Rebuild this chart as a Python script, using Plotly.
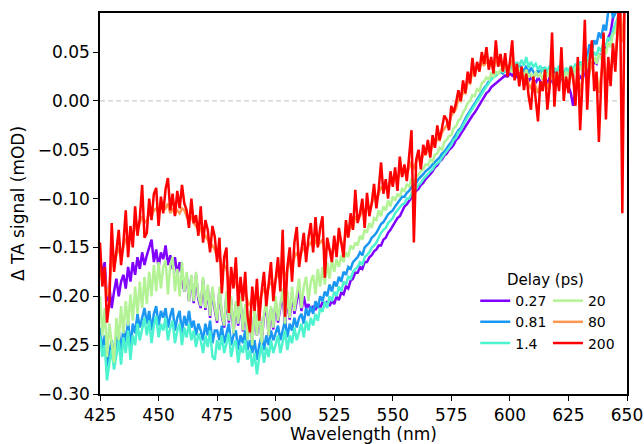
import plotly.graph_objects as go

wavelength = list(range(425, 651))

delay_labels = ["0.27", "0.81", "1.4", "20", "80", "200"]
colors = ["#8000ff", "#1a96f3", "#4df3ce", "#b3f396", "#ff964f", "#ff0000"]

sig_027 = [
    -0.160, -0.178, -0.165, -0.205, -0.190, -0.212, -0.195, -0.182, -0.200, -0.185,
    -0.178, -0.192, -0.170, -0.185, -0.165, -0.178, -0.160, -0.172, -0.155, -0.168,
    -0.158, -0.150, -0.142, -0.165, -0.152, -0.170, -0.155, -0.162, -0.148, -0.168,
    -0.158, -0.172, -0.160, -0.178, -0.165, -0.182, -0.195, -0.178, -0.205, -0.180,
    -0.207, -0.178, -0.203, -0.212, -0.183, -0.214, -0.191, -0.222, -0.193, -0.214,
    -0.227, -0.193, -0.220, -0.232, -0.198, -0.227, -0.203, -0.238, -0.208, -0.230,
    -0.205, -0.236, -0.212, -0.244, -0.218, -0.248, -0.215, -0.240, -0.213, -0.246,
    -0.221, -0.210, -0.240, -0.213, -0.234, -0.205, -0.227, -0.211, -0.198, -0.230,
    -0.200, -0.224, -0.196, -0.218, -0.205, -0.192, -0.215, -0.200, -0.212, -0.208,
    -0.215, -0.210, -0.214, -0.208, -0.212, -0.206, -0.210, -0.205, -0.210, -0.204,
    -0.208, -0.200, -0.204, -0.196, -0.198, -0.190, -0.192, -0.184, -0.182, -0.176,
    -0.176, -0.170, -0.172, -0.165, -0.165, -0.160, -0.158, -0.154, -0.152, -0.148,
    -0.148, -0.142, -0.140, -0.135, -0.132, -0.128, -0.125, -0.120, -0.118, -0.112,
    -0.108, -0.106, -0.102, -0.098, -0.095, -0.092, -0.090, -0.086, -0.084, -0.080,
    -0.078, -0.075, -0.072, -0.068, -0.066, -0.062, -0.060, -0.056, -0.054, -0.050,
    -0.048, -0.045, -0.040, -0.038, -0.034, -0.030, -0.026, -0.022, -0.018, -0.015,
    -0.012, -0.008, -0.004, 0.000, 0.004, 0.008, 0.010, 0.014, 0.016, 0.018,
    0.020, 0.022, 0.024, 0.026, 0.025, 0.028, 0.026, 0.030, 0.025, 0.028,
    0.025, 0.022, 0.026, 0.020, 0.024, 0.022, 0.018, 0.024, 0.020, 0.016,
    0.022, 0.018, 0.024, 0.020, 0.016, 0.022, 0.018, 0.024, 0.020, 0.016,
    0.015, 0.008, -0.005, 0.012, 0.020, 0.025, 0.022, 0.030, 0.028, 0.035,
    0.035, 0.040, 0.038, 0.048, 0.045, 0.055, 0.052, 0.065, 0.070, 0.085,
    0.090, 0.095, 0.100, 0.100, 0.105, 0.110,
]

sig_081 = [
    -0.232, -0.255, -0.240, -0.272, -0.258, -0.245, -0.262, -0.248, -0.235, -0.258,
    -0.232, -0.248, -0.225, -0.252, -0.228, -0.238, -0.218, -0.232, -0.222, -0.212,
    -0.228, -0.215, -0.235, -0.218, -0.210, -0.230, -0.215, -0.222, -0.212, -0.232,
    -0.220, -0.212, -0.235, -0.222, -0.215, -0.238, -0.220, -0.230, -0.215, -0.232,
    -0.225, -0.240, -0.228, -0.235, -0.245, -0.228, -0.240, -0.225, -0.248, -0.235,
    -0.235, -0.245, -0.230, -0.248, -0.238, -0.228, -0.250, -0.240, -0.235, -0.255,
    -0.240, -0.248, -0.235, -0.255, -0.245, -0.258, -0.245, -0.265, -0.250, -0.240,
    -0.255, -0.240, -0.250, -0.235, -0.245, -0.238, -0.230, -0.245, -0.235, -0.225,
    -0.242, -0.228, -0.235, -0.222, -0.232, -0.222, -0.218, -0.228, -0.212, -0.220,
    -0.210, -0.218, -0.205, -0.212, -0.200, -0.205, -0.195, -0.200, -0.188, -0.195,
    -0.185, -0.190, -0.180, -0.185, -0.175, -0.178, -0.170, -0.172, -0.165, -0.162,
    -0.160, -0.155, -0.158, -0.150, -0.148, -0.145, -0.140, -0.138, -0.135, -0.130,
    -0.126, -0.124, -0.120, -0.116, -0.114, -0.112, -0.108, -0.105, -0.102, -0.098,
    -0.098, -0.094, -0.092, -0.088, -0.086, -0.084, -0.080, -0.078, -0.075, -0.072,
    -0.070, -0.068, -0.065, -0.062, -0.060, -0.058, -0.054, -0.052, -0.048, -0.045,
    -0.042, -0.038, -0.035, -0.030, -0.028, -0.022, -0.018, -0.014, -0.010, -0.006,
    -0.003, 0.002, 0.006, 0.010, 0.013, 0.016, 0.020, 0.022, 0.025, 0.026,
    0.028, 0.030, 0.028, 0.032, 0.030, 0.034, 0.030, 0.036, 0.032, 0.038,
    0.034, 0.030, 0.036, 0.028, 0.034, 0.030, 0.026, 0.032, 0.028, 0.034,
    0.030, 0.026, 0.032, 0.024, 0.030, 0.028, 0.034, 0.030, 0.026, 0.032,
    0.028, 0.034, 0.030, 0.036, 0.032, 0.040, 0.036, 0.050, 0.045, 0.058,
    0.052, 0.062, 0.058, 0.070, 0.064, 0.078, 0.072, 0.092, 0.100, 0.085,
    0.090, 0.095, 0.100, 0.105, 0.105, 0.110,
]

sig_14 = [
    -0.240, -0.262, -0.250, -0.286, -0.268, -0.255, -0.275, -0.260, -0.245, -0.270,
    -0.242, -0.258, -0.235, -0.265, -0.240, -0.250, -0.228, -0.245, -0.235, -0.222,
    -0.240, -0.225, -0.248, -0.230, -0.220, -0.242, -0.228, -0.235, -0.222, -0.245,
    -0.232, -0.225, -0.248, -0.235, -0.228, -0.250, -0.232, -0.242, -0.228, -0.245,
    -0.235, -0.252, -0.238, -0.245, -0.258, -0.240, -0.252, -0.235, -0.262, -0.265,
    -0.245, -0.255, -0.240, -0.258, -0.248, -0.238, -0.262, -0.250, -0.245, -0.268,
    -0.250, -0.258, -0.245, -0.265, -0.255, -0.272, -0.258, -0.280, -0.262, -0.250,
    -0.268, -0.252, -0.262, -0.245, -0.258, -0.248, -0.240, -0.258, -0.245, -0.235,
    -0.255, -0.240, -0.248, -0.232, -0.245, -0.235, -0.228, -0.242, -0.225, -0.235,
    -0.222, -0.230, -0.218, -0.225, -0.212, -0.216, -0.205, -0.212, -0.200, -0.205,
    -0.195, -0.200, -0.190, -0.195, -0.185, -0.188, -0.180, -0.182, -0.175, -0.172,
    -0.170, -0.165, -0.168, -0.160, -0.158, -0.155, -0.150, -0.148, -0.145, -0.140,
    -0.135, -0.132, -0.130, -0.125, -0.122, -0.120, -0.115, -0.112, -0.110, -0.106,
    -0.105, -0.100, -0.100, -0.095, -0.092, -0.090, -0.086, -0.084, -0.080, -0.078,
    -0.075, -0.072, -0.070, -0.066, -0.064, -0.062, -0.058, -0.055, -0.052, -0.048,
    -0.045, -0.040, -0.038, -0.032, -0.030, -0.025, -0.020, -0.016, -0.012, -0.008,
    -0.005, 0.000, 0.004, 0.008, 0.012, 0.015, 0.018, 0.022, 0.024, 0.026,
    0.028, 0.030, 0.032, 0.030, 0.035, 0.032, 0.038, 0.034, 0.040, 0.036,
    0.042, 0.036, 0.045, 0.034, 0.040, 0.035, 0.038, 0.032, 0.036, 0.030,
    0.035, 0.030, 0.036, 0.028, 0.034, 0.030, 0.036, 0.032, 0.028, 0.034,
    0.030, 0.036, 0.032, 0.038, 0.034, 0.040, 0.036, 0.045, 0.040, 0.048,
    0.044, 0.050, 0.046, 0.055, 0.050, 0.060, 0.056, 0.065, 0.062, 0.072,
    0.078, 0.085, 0.092, 0.098, 0.100, 0.105,
]

sig_20 = [
    -0.200, -0.240, -0.212, -0.262, -0.228, -0.250, -0.268, -0.222, -0.245, -0.210,
    -0.238, -0.205, -0.230, -0.198, -0.225, -0.190, -0.218, -0.185, -0.212, -0.180,
    -0.208, -0.175, -0.200, -0.168, -0.195, -0.165, -0.192, -0.170, -0.163, -0.198,
    -0.168, -0.160, -0.195, -0.172, -0.200, -0.165, -0.195, -0.175, -0.205, -0.178,
    -0.205, -0.175, -0.200, -0.210, -0.180, -0.212, -0.188, -0.220, -0.190, -0.212,
    -0.225, -0.190, -0.218, -0.230, -0.195, -0.225, -0.200, -0.238, -0.205, -0.228,
    -0.200, -0.235, -0.208, -0.245, -0.215, -0.250, -0.212, -0.240, -0.210, -0.248,
    -0.218, -0.205, -0.240, -0.210, -0.232, -0.200, -0.225, -0.208, -0.192, -0.228,
    -0.195, -0.222, -0.190, -0.215, -0.198, -0.182, -0.212, -0.190, -0.180, -0.205,
    -0.185, -0.178, -0.198, -0.172, -0.190, -0.170, -0.188, -0.165, -0.182, -0.162,
    -0.175, -0.162, -0.170, -0.158, -0.165, -0.155, -0.160, -0.148, -0.152, -0.145,
    -0.148, -0.138, -0.142, -0.132, -0.135, -0.125, -0.130, -0.120, -0.122, -0.112,
    -0.118, -0.108, -0.112, -0.102, -0.108, -0.098, -0.102, -0.095, -0.098, -0.090,
    -0.092, -0.085, -0.088, -0.080, -0.082, -0.078, -0.075, -0.072, -0.070, -0.065,
    -0.066, -0.060, -0.062, -0.055, -0.054, -0.048, -0.050, -0.042, -0.040, -0.036,
    -0.035, -0.028, -0.026, -0.020, -0.018, -0.012, -0.008, -0.002, 0.000, 0.006,
    0.005, 0.012, 0.010, 0.018, 0.020, 0.024, 0.022, 0.028, 0.025, 0.030,
    0.028, 0.032, 0.030, 0.035, 0.028, 0.032, 0.030, 0.036, 0.028, 0.034,
    0.030, 0.026, 0.032, 0.024, 0.028, 0.022, 0.030, 0.025, 0.028, 0.022,
    0.030, 0.025, 0.032, 0.022, 0.028, 0.024, 0.030, 0.026, 0.022, 0.030,
    0.026, 0.032, 0.024, 0.035, 0.028, 0.036, 0.030, 0.040, 0.034, 0.042,
    0.036, 0.045, 0.038, 0.048, 0.042, 0.055, 0.048, 0.060, 0.055, 0.068,
    0.070, 0.082, 0.088, 0.095, 0.100, 0.105,
]

sig_80 = [
    -0.170, -0.185, -0.178, -0.200, -0.190, -0.160, -0.170, -0.158, -0.150, -0.160,
    -0.150, -0.140, -0.148, -0.135, -0.140, -0.128, -0.132, -0.125, -0.118, -0.125,
    -0.122, -0.115, -0.118, -0.112, -0.110, -0.115, -0.108, -0.112, -0.110, -0.105,
    -0.115, -0.110, -0.116, -0.112, -0.115, -0.110, -0.112, -0.118, -0.122, -0.118,
    -0.125, -0.128, -0.132, -0.130, -0.140, -0.138, -0.142, -0.150, -0.148, -0.152,
    -0.160, -0.158, -0.170, -0.168, -0.172, -0.185, -0.180, -0.188, -0.185, -0.195,
    -0.192, -0.198, -0.195, -0.205, -0.210, -0.200, -0.205, -0.198, -0.205, -0.198,
    -0.192, -0.198, -0.190, -0.185, -0.190, -0.182, -0.178, -0.182, -0.170, -0.180,
    -0.172, -0.165, -0.170, -0.160, -0.155, -0.162, -0.155, -0.150, -0.155, -0.148,
    -0.145, -0.150, -0.142, -0.148, -0.145, -0.142, -0.155, -0.150, -0.152, -0.155,
    -0.148, -0.152, -0.142, -0.145, -0.148, -0.135, -0.138, -0.128, -0.130, -0.118,
    -0.122, -0.118, -0.112, -0.118, -0.108, -0.110, -0.105, -0.098, -0.102, -0.095,
    -0.088, -0.092, -0.088, -0.090, -0.082, -0.085, -0.078, -0.082, -0.072, -0.075,
    -0.072, -0.075, -0.068, -0.062, -0.070, -0.062, -0.058, -0.062, -0.055, -0.055,
    -0.050, -0.052, -0.045, -0.045, -0.038, -0.040, -0.032, -0.028, -0.025, -0.025,
    -0.015, -0.012, -0.008, 0.002, 0.000, 0.010, 0.008, 0.020, 0.018, 0.030,
    0.028, 0.035, 0.032, 0.040, 0.036, 0.042, 0.035, 0.040, 0.032, 0.045,
    0.036, 0.040, 0.032, 0.040, 0.030, 0.035, 0.042, 0.028, 0.032, 0.025,
    0.030, 0.022, 0.025, 0.018, 0.012, 0.022, 0.015, 0.008, 0.018, 0.015,
    0.025, 0.012, 0.018, 0.035, 0.012, 0.025, 0.018, 0.032, 0.015, 0.022,
    0.018, 0.028, 0.022, 0.012, 0.030, 0.008, 0.022, 0.045, 0.018, 0.030,
    0.040, 0.022, 0.028, 0.008, 0.025, 0.045, 0.020, 0.038, 0.030, 0.050,
    0.045, 0.065, 0.090, 0.060, 0.100, 0.110,
]

sig_200 = [
    -0.145, -0.190, -0.170, -0.227, -0.205, -0.125, -0.175, -0.150, -0.132, -0.168,
    -0.145, -0.112, -0.160, -0.128, -0.150, -0.108, -0.138, -0.120, -0.086, -0.140,
    -0.135, -0.100, -0.122, -0.095, -0.089, -0.128, -0.098, -0.115, -0.090, -0.079,
    -0.112, -0.095, -0.118, -0.092, -0.110, -0.086, -0.105, -0.112, -0.130, -0.100,
    -0.125, -0.117, -0.138, -0.108, -0.145, -0.122, -0.132, -0.155, -0.128, -0.139,
    -0.165, -0.140, -0.197, -0.160, -0.150, -0.217, -0.170, -0.192, -0.160, -0.210,
    -0.180, -0.205, -0.175, -0.220, -0.237, -0.190, -0.215, -0.182, -0.225, -0.195,
    -0.175, -0.210, -0.190, -0.165, -0.205, -0.180, -0.160, -0.195, -0.132, -0.221,
    -0.170, -0.150, -0.185, -0.145, -0.129, -0.170, -0.150, -0.135, -0.165, -0.140,
    -0.125, -0.155, -0.119, -0.150, -0.130, -0.118, -0.181, -0.140, -0.152, -0.165,
    -0.138, -0.160, -0.130, -0.145, -0.160, -0.122, -0.140, -0.115, -0.132, -0.091,
    -0.125, -0.115, -0.100, -0.130, -0.094, -0.118, -0.105, -0.085, -0.110, -0.090,
    -0.063, -0.095, -0.080, -0.100, -0.072, -0.088, -0.068, -0.092, -0.057, -0.078,
    -0.065, -0.082, -0.058, -0.030, -0.145, -0.060, -0.050, -0.070, -0.045, -0.055,
    -0.040, -0.058, -0.035, -0.048, -0.025, -0.040, -0.028, -0.015, -0.019, -0.030,
    -0.005, -0.012, -0.002, 0.011, 0.000, 0.021, 0.008, 0.030, 0.018, 0.044,
    0.025, 0.040, 0.030, 0.050, 0.038, 0.055, 0.032, 0.045, 0.028, 0.062,
    0.035, 0.048, 0.030, 0.049, 0.025, 0.040, 0.062, 0.021, 0.038, 0.015,
    0.035, 0.011, 0.028, 0.005, -0.009, 0.025, 0.002, -0.021, 0.020, 0.010,
    0.032, -0.009, 0.015, 0.070, -0.006, 0.030, 0.010, 0.055, 0.000, 0.025,
    0.008, 0.035, 0.025, -0.005, 0.045, -0.030, 0.020, 0.083, -0.009, 0.040,
    0.062, 0.010, 0.030, -0.042, 0.020, 0.070, -0.019, 0.045, 0.015, 0.059,
    0.030, 0.075, 0.120, -0.115, 0.120, 0.120,
]

series = [sig_027, sig_081, sig_14, sig_20, sig_80, sig_200]
for s in series:
    assert len(s) == len(wavelength), len(s)

legend_ids = ["legend", "legend", "legend", "legend2", "legend2", "legend2"]

x_ticks = [425, 450, 475, 500, 525, 550, 575, 600, 625, 650]
y_ticks = [-0.30, -0.25, -0.20, -0.15, -0.10, -0.05, 0.00, 0.05]

font_family = "DejaVu Sans"

fig = go.Figure()
for lab, col, ys, lg in zip(delay_labels, colors, series, legend_ids):
    fig.add_trace(go.Scatter(
        x=wavelength, y=ys, mode="lines", name=lab,
        line=dict(color=col, width=2.5), legend=lg,
    ))

fig.add_shape(type="line", xref="x", yref="y", x0=425, x1=650, y0=0, y1=0,
              line=dict(color="#bdbdbd", width=1, dash="5px,3px"), layer="below")

axis_common = dict(
    showline=True, linecolor="black", linewidth=1.6, mirror=True,
    ticks="outside", ticklen=5, tickwidth=1.4, tickcolor="black",
    showgrid=False, zeroline=False, automargin=False,
    tickfont=dict(family=font_family, size=17, color="black"),
)

fig.update_layout(
    width=644, height=444,
    margin=dict(l=100, r=17, t=13, b=50),
    paper_bgcolor="white", plot_bgcolor="white",
    font=dict(family=font_family, color="black"),
    xaxis=dict(range=[425, 650], tickvals=x_ticks,
               title=dict(text="Wavelength (nm)", font=dict(size=17), standoff=2),
               **axis_common),
    yaxis=dict(range=[-0.30, 0.09], tickvals=y_ticks, tickformat=".2f",
               title=dict(text="Δ TA signal (mOD)", font=dict(size=17), standoff=9),
               **axis_common),
    legend=dict(x=0.712, y=0.286, xanchor="left", yanchor="top",
                bgcolor="rgba(0,0,0,0)", font=dict(size=14), tracegroupgap=0,
                itemwidth=30),
    legend2=dict(x=0.850, y=0.286, xanchor="left", yanchor="top",
                 bgcolor="rgba(0,0,0,0)", font=dict(size=14), tracegroupgap=0,
                 itemwidth=30),
    annotations=[dict(text="Delay (ps)", xref="paper", yref="paper",
                      x=0.845, y=0.300, xanchor="center", yanchor="middle",
                      showarrow=False, font=dict(size=15, family=font_family))],
)

fig.write_html("out.html",
               config={"displayModeBar": False},
               post_script="document.body.style.margin='0';document.body.style.overflow='hidden';")
